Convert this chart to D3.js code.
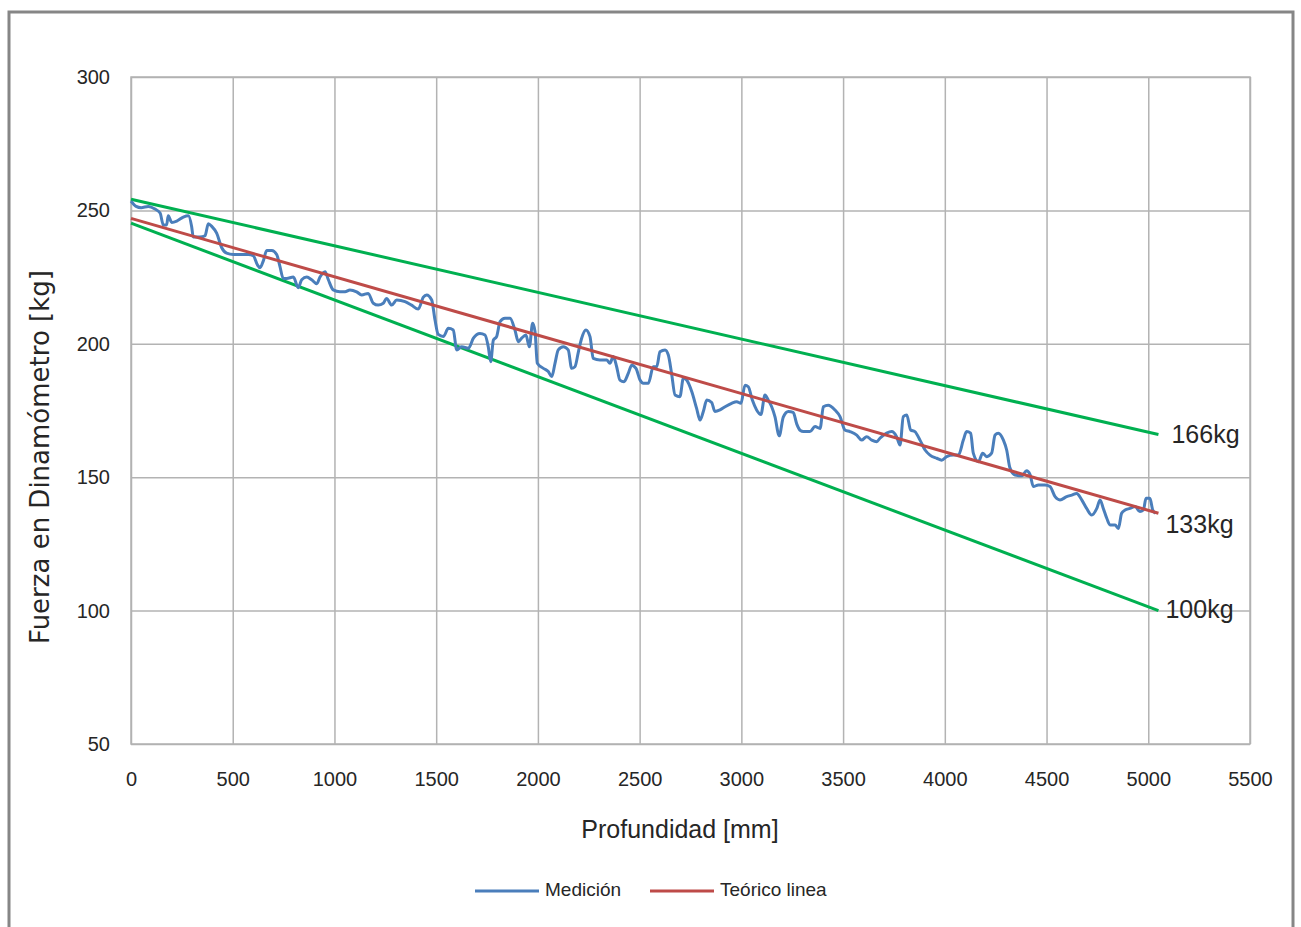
<!DOCTYPE html>
<html>
<head>
<meta charset="utf-8">
<script src="https://cdn.jsdelivr.net/npm/d3@7"></script>
<style>
  body { margin: 0; background: #fff; overflow: hidden; }
  svg { display: block; }
  svg text { fill: #262626; }
  .tick text { font-family: "Liberation Sans", Arial, sans-serif; font-size: 20px; }
</style>
</head>
<body>
<svg id="chart"></svg>
<script>
// measured series (depth mm, force kg)
const medicionX = [0,25,50,85,118,143,159,175,183,200,225,257,282,298,306,339,364,380,397,421,446,470,503,536,577,601,622,634,650,667,692,716,732,748,765,798,822,839,864,888,913,929,954,970,994,1027,1052,1076,1109,1134,1166,1191,1215,1240,1256,1281,1306,1347,1379,1412,1437,1453,1478,1494,1510,1535,1560,1584,1601,1625,1658,1683,1715,1740,1756,1768,1781,1797,1814,1838,1863,1887,1904,1920,1941,1958,1974,1986,1997,2027,2051,2068,2084,2100,2125,2149,2166,2182,2199,2215,2236,2256,2272,2305,2338,2354,2370,2387,2403,2423,2444,2461,2482,2502,2518,2543,2567,2584,2600,2625,2641,2657,2674,2698,2715,2731,2756,2780,2797,2813,2830,2854,2870,2895,2920,2952,2977,2998,3018,3034,3054,3075,3096,3116,3132,3149,3165,3186,3206,3231,3255,3272,3290,3305,3337,3362,3387,3403,3427,3460,3485,3509,3534,3567,3591,3616,3641,3665,3681,3714,3739,3763,3780,3796,3813,3832,3853,3878,3903,3927,3960,3985,4009,4042,4067,4091,4107,4127,4140,4165,4186,4206,4230,4247,4263,4288,4304,4320,4345,4378,4402,4419,4435,4460,4492,4517,4542,4566,4599,4624,4648,4673,4697,4722,4747,4763,4779,4796,4812,4837,4853,4869,4886,4910,4935,4959,4976,4989,5008,5022,5035];
const medicionY = [253.5,251.5,251,251.5,250.5,249,244.5,244.5,248,245.5,246,247.5,248,244,240,240,240.5,245,244,241.5,236,234,233.5,233.5,233.5,233,229.5,228.5,231,235,235,233.5,229,224.5,224.5,225,221,224,225,224,222.5,225,227,224,220.2,219.5,219.5,220.2,219.5,218.3,218.9,215.2,214.5,215.2,217,214.5,216.4,215.8,214.5,213,217.5,218.3,216.4,209,203.5,202.7,205.8,205.2,197.7,198.9,198.3,202.1,203.9,203.3,198.9,193.3,201.4,202.7,208.3,209.6,209.6,205.2,200.8,202.1,203.3,198.9,207.7,204.5,192.7,190.8,189.6,187.7,192.7,197.7,198.9,197.7,190.8,191.4,197,202.1,205.2,202.7,194.5,193.9,193.9,192.7,195.2,191.4,186.4,185.8,188.9,192,190.8,186.4,185.2,185.2,191.4,191.4,197,197.7,195.8,188.9,180.8,180.2,187.1,186.4,182.1,175.8,171.4,174.6,178.9,178,174.6,175.2,176.4,177.7,178.3,177.7,184.5,183.9,178.9,175.2,173.5,180.8,178.9,176.4,172.7,165.5,172.5,174.6,174.3,170,167.5,167.1,167.1,169,168.3,176.4,177,175.2,172.7,167.7,167.1,165.8,163.9,165.2,163.9,163.3,164.6,166.5,167.1,165.2,162.1,172.7,173.3,167.7,167.1,163.9,160.2,158.3,157.1,156.4,157.7,158.3,158.3,163.9,167.1,166.5,159,155.8,159,157.7,159,165.8,166.5,163.9,160.2,153.5,150.8,150.5,152.4,151,146.5,147.1,147.1,146.5,142.7,141.5,142.7,143.3,143.9,141.5,138.3,135.8,138.3,141.5,138.3,134.6,132.1,132.1,130.8,136.5,137.7,138.3,139,137.1,137.7,142.1,142.1,137.7,136.5];

// theoretical lines: start / end points
const lineX = [0, 5050];
const teoricoY = [247, 136.5];
const limiteAltoY = [254.2, 166];
const limiteBajoY = [245.2, 100];
const limiteLabels = ["166kg", "133kg", "100kg"];

const xTicks = d3.range(0, 5501, 500);
const yTicks = d3.range(50, 301, 50);

const width = 1301, height = 927;
const margin = { top: 77, right: 51, bottom: 183, left: 131 };
const innerWidth = width - margin.left - margin.right;
const innerHeight = height - margin.top - margin.bottom;

const colors = { medicion: "#4a7ebb", teorico: "#be4b48", limite: "#00b050", grid: "#b3b3b3" };

const svg = d3.select("#chart").attr("width", width).attr("height", height);

// chart area frame
svg.append("rect")
  .attr("x", 9).attr("y", 12)
  .attr("width", 1284).attr("height", 940)
  .attr("fill", "#fff")
  .attr("stroke", "#868686")
  .attr("stroke-width", 3);

const x = d3.scaleLinear().domain([0, 5500]).range([0, innerWidth]);
const y = d3.scaleLinear().domain([50, 300]).range([innerHeight, 0]);

const g = svg.append("g").attr("transform", `translate(${margin.left},${margin.top})`);

// grid
g.append("g")
  .attr("transform", `translate(0,${innerHeight})`)
  .call(d3.axisBottom(x).tickValues(xTicks).tickFormat(d3.format("d")).tickSize(-innerHeight).tickPadding(28))
  .call(a => a.select(".domain").remove())
  .call(a => a.selectAll("line").attr("stroke", colors.grid).attr("stroke-width", 1.5));

g.append("g")
  .call(d3.axisLeft(y).tickValues(yTicks).tickFormat(d3.format("d")).tickSize(-innerWidth).tickPadding(21))
  .call(a => a.select(".domain").remove())
  .call(a => a.selectAll("line").attr("stroke", colors.grid).attr("stroke-width", 1.5));

g.selectAll(".tick text").attr("fill", "#262626");

g.append("rect")
  .attr("width", innerWidth).attr("height", innerHeight)
  .attr("fill", "none").attr("stroke", colors.grid).attr("stroke-width", 1.5);

// lines
const line = d3.line().x(d => x(d[0])).y(d => y(d[1]));

g.append("path")
  .datum(lineX.map((v, i) => [v, limiteAltoY[i]]))
  .attr("d", line).attr("fill", "none")
  .attr("stroke", colors.limite).attr("stroke-width", 3);

g.append("path")
  .datum(lineX.map((v, i) => [v, limiteBajoY[i]]))
  .attr("d", line).attr("fill", "none")
  .attr("stroke", colors.limite).attr("stroke-width", 3);

g.append("path")
  .datum(medicionX.map((v, i) => [v, medicionY[i]]))
  .attr("d", d3.line().x(d => x(d[0])).y(d => y(d[1])).curve(d3.curveMonotoneX))
  .attr("fill", "none")
  .attr("stroke", colors.medicion).attr("stroke-width", 3)
  .attr("stroke-linejoin", "round");

g.append("path")
  .datum(lineX.map((v, i) => [v, teoricoY[i]]))
  .attr("d", line).attr("fill", "none")
  .attr("stroke", colors.teorico).attr("stroke-width", 3);

// end labels
const labelEnds = [limiteAltoY[1], teoricoY[1], limiteBajoY[1]];
const labelDx = [13, 7, 7];
const labelDy = [2, 13, 1];
g.selectAll(".end-label")
  .data(limiteLabels)
  .join("text")
  .attr("class", "end-label")
  .attr("x", (d, i) => x(lineX[1]) + labelDx[i])
  .attr("y", (d, i) => y(labelEnds[i]) + labelDy[i])
  .attr("dominant-baseline", "middle")
  .attr("font-family", "'Liberation Sans', Arial, sans-serif")
  .attr("font-size", 25)
  .text(d => d);

// axis titles
svg.append("text")
  .attr("x", 680)
  .attr("y", 838)
  .attr("text-anchor", "middle")
  .attr("font-family", "'Liberation Sans', Arial, sans-serif")
  .attr("font-size", 25)
  .text("Profundidad [mm]");

svg.append("text")
  .attr("transform", "translate(49,457) rotate(-90)")
  .attr("text-anchor", "middle")
  .attr("font-family", "'DejaVu Sans', sans-serif")
  .attr("font-size", 26)
  .text("Fuerza en Dinamómetro [kg]");

// legend
const legendItems = [
  { name: "Medición", color: colors.medicion, x: 475 },
  { name: "Teórico linea", color: colors.teorico, x: 650 }
];
const legend = svg.append("g").attr("transform", "translate(0,891)");
legend.selectAll("line")
  .data(legendItems)
  .join("line")
  .attr("x1", d => d.x).attr("x2", d => d.x + 64)
  .attr("stroke", d => d.color).attr("stroke-width", 3);
legend.selectAll("text")
  .data(legendItems)
  .join("text")
  .attr("x", d => d.x + 70)
  .attr("dominant-baseline", "middle")
  .attr("font-family", "'Liberation Sans', Arial, sans-serif")
  .attr("font-size", 19)
  .text(d => d.name);
</script>
</body>
</html>
